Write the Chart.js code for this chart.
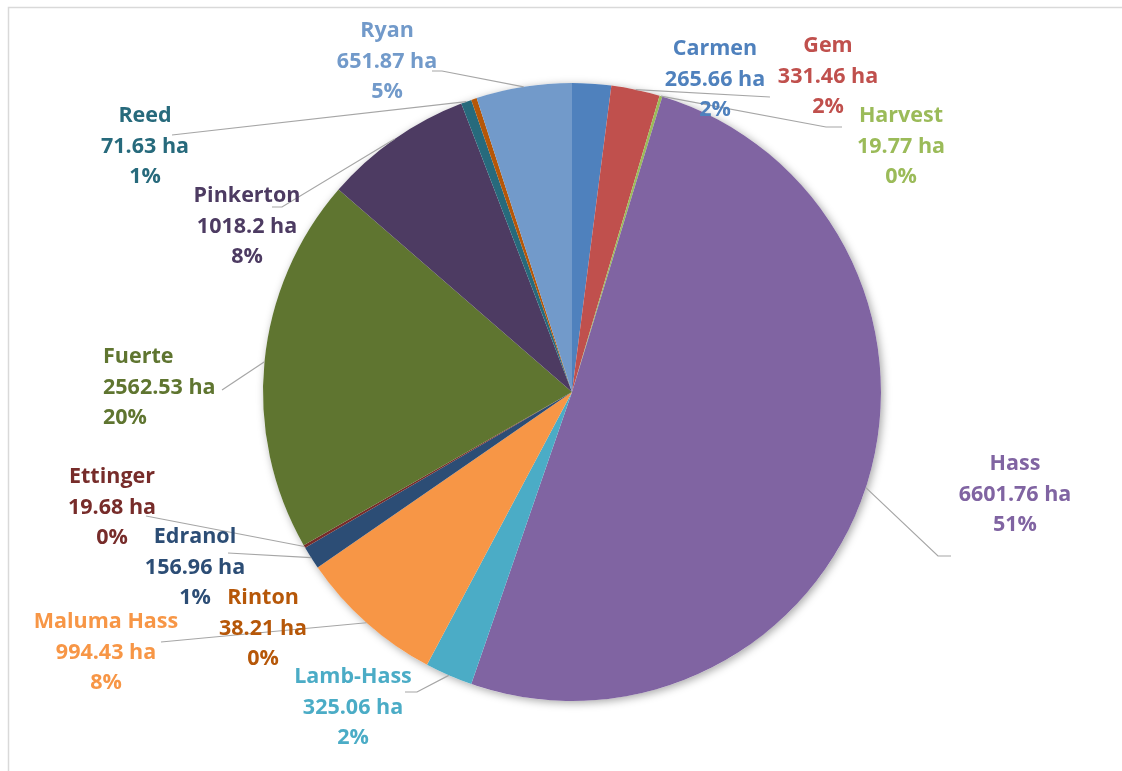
<!DOCTYPE html>
<html>
<head>
<meta charset="utf-8">
<script src="https://cdn.jsdelivr.net/npm/chart.js@4.4.0/dist/chart.umd.min.js"></script>
<style>
  html, body { margin: 0; padding: 0; background: #fff; }
  canvas { display: block; }
</style>
</head>
<body>
<canvas id="chart" width="1122" height="771"></canvas>
<script>
const varieties = ['Carmen', 'Gem', 'Harvest', 'Hass', 'Lamb-Hass', 'Maluma Hass', 'Edranol', 'Ettinger', 'Fuerte', 'Pinkerton', 'Reed', 'Rinton', 'Ryan'];
const hectares = [265.66, 331.46, 19.77, 6601.76, 325.06, 994.43, 156.96, 19.68, 2562.53, 1018.2, 71.63, 38.21, 651.87];
const shares = ['2%', '2%', '0%', '51%', '2%', '8%', '1%', '0%', '20%', '8%', '1%', '0%', '5%'];
const colors = ['#4F81BD', '#C0504D', '#9BBB59', '#8064A2', '#4BACC6', '#F79646', '#2C4D75', '#772C2A', '#5F7530', '#4D3B62', '#276A7C', '#B65708', '#729ACA'];

// label placement: x is the centre of the text (or left edge for align 'left'),
// y the baseline of the first line; leader = points the line passes before the slice
const labelLayout = [
    { x: 715, y: 55, leader: null },
    { x: 828, y: 52, leader: [[770, 97]] },
    { x: 901, y: 122, leader: [[842, 127], [826, 127]] },
    { x: 1015, y: 470, leader: [[951, 556], [938, 556]] },
    { x: 353, y: 683, leader: [[405, 692], [417, 692]] },
    { x: 106, y: 628, leader: [[161, 642]] },
    { x: 195, y: 543, leader: [[228, 553]] },
    { x: 112, y: 483, leader: [[146, 516]] },
    { x: 103, y: 363, align: 'left', leader: [[222, 390]] },
    { x: 247, y: 202, leader: [[272, 207], [282, 207]] },
    { x: 145, y: 122, leader: [[172, 135]] },
    { x: 263, y: 604, leader: null },
    { x: 387, y: 37, leader: [[432, 71], [442, 71]] }
];

const lineStep = 30.5;

const frame = {
    id: 'frame',
    beforeDraw(chart) {
        const ctx = chart.ctx;
        ctx.save();
        ctx.strokeStyle = '#d9d9d9';
        ctx.lineWidth = 1.5;
        ctx.beginPath();
        ctx.moveTo(8.5, chart.height);
        ctx.lineTo(8.5, 7.5);
        ctx.lineTo(chart.width, 7.5);
        ctx.stroke();
        ctx.restore();
    }
};

const pieShadow = {
    id: 'pieShadow',
    beforeDatasetsDraw(chart) {
        const arc = chart.getDatasetMeta(0).data[0];
        if (!arc) return;
        const { x, y, outerRadius } = arc.getProps(['x', 'y', 'outerRadius']);
        const ctx = chart.ctx;
        ctx.save();
        ctx.shadowColor = 'rgba(0, 0, 0, 0.35)';
        ctx.shadowBlur = 9;
        ctx.shadowOffsetX = 2;
        ctx.shadowOffsetY = 2;
        ctx.fillStyle = '#ffffff';
        ctx.beginPath();
        ctx.arc(x, y, outerRadius, 0, Math.PI * 2);
        ctx.fill();
        ctx.restore();
    }
};

const sliceLabels = {
    id: 'sliceLabels',
    afterDatasetsDraw(chart) {
        const ctx = chart.ctx;
        const arcs = chart.getDatasetMeta(0).data;
        ctx.save();

        // leader lines first, text on top
        ctx.strokeStyle = '#a6a6a6';
        ctx.lineWidth = 1.2;
        arcs.forEach((arc, i) => {
            const spot = labelLayout[i];
            if (!spot.leader) return;
            const p = arc.getProps(['x', 'y', 'startAngle', 'endAngle', 'outerRadius']);
            const mid = (p.startAngle + p.endAngle) / 2;
            ctx.beginPath();
            spot.leader.forEach(([lx, ly], k) => k ? ctx.lineTo(lx, ly) : ctx.moveTo(lx, ly));
            ctx.lineTo(p.x + Math.cos(mid) * p.outerRadius, p.y + Math.sin(mid) * p.outerRadius);
            ctx.stroke();
        });

        ctx.font = 'bold 21.5px "Open Sans"';
        ctx.textBaseline = 'alphabetic';
        arcs.forEach((arc, i) => {
            const spot = labelLayout[i];
            const lines = [varieties[i], hectares[i] + ' ha', shares[i]];
            ctx.fillStyle = colors[i];
            ctx.textAlign = spot.align || 'center';
            lines.forEach((t, k) => ctx.fillText(t, spot.x, spot.y + k * lineStep));
        });
        ctx.restore();
    }
};

new Chart(document.getElementById('chart'), {
    type: 'pie',
    data: {
        labels: varieties,
        datasets: [{
            data: hectares,
            backgroundColor: colors,
            borderWidth: 0
        }]
    },
    options: {
        responsive: false,
        animation: false,
        layout: { padding: { left: 263, right: 241, top: 83, bottom: 70 } },
        plugins: {
            legend: { display: false },
            tooltip: { enabled: false }
        }
    },
    plugins: [frame, pieShadow, sliceLabels]
});
</script>
</body>
</html>
